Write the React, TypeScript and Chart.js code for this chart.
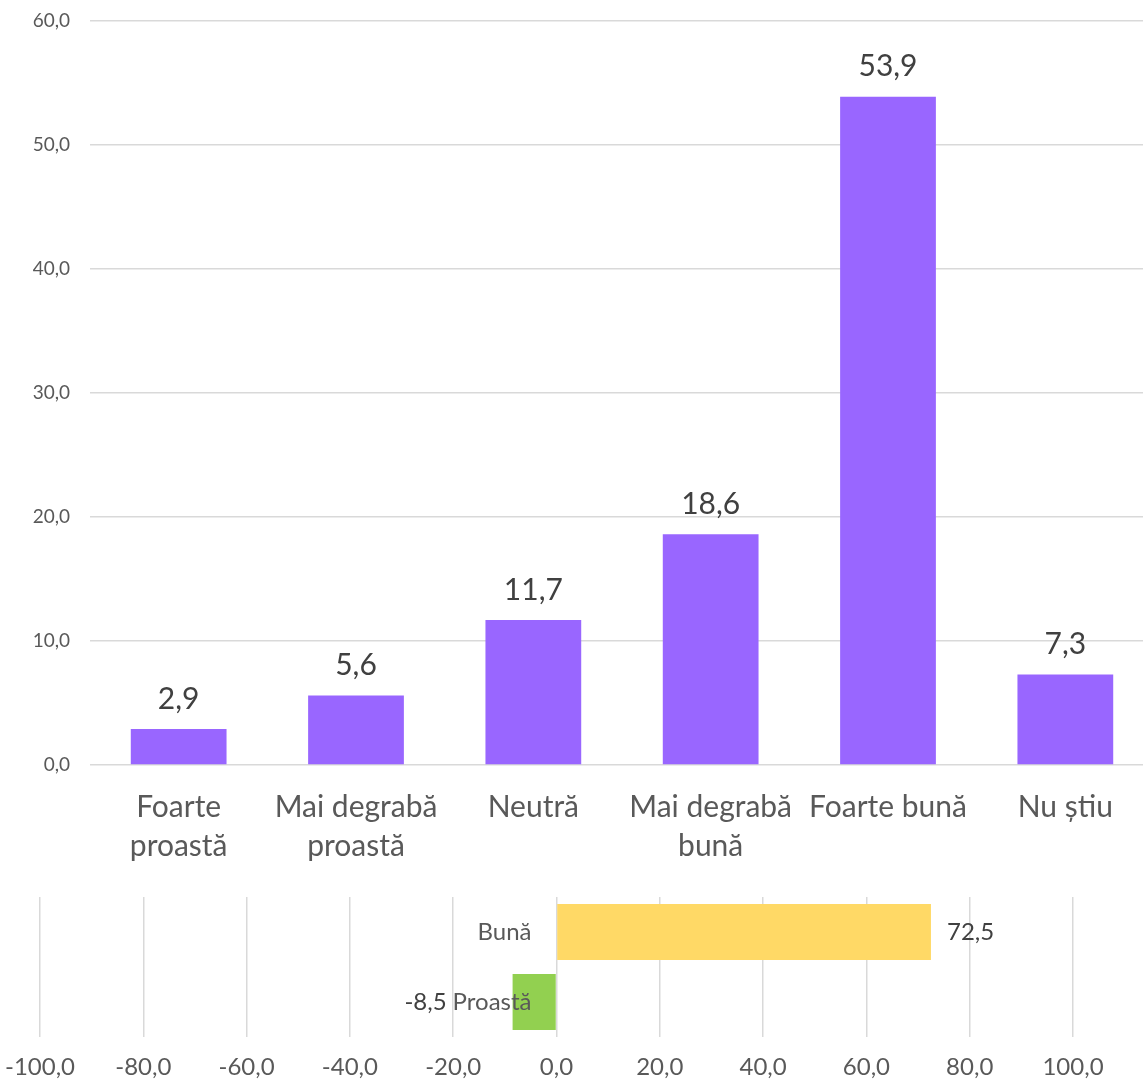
import React, { useEffect, useRef } from "react";
import { Chart, registerables } from "chart.js";

Chart.register(...registerables);

// ---- Data ----
const categories: (string | string[])[] = [
  ["Foarte", "proastă"],
  ["Mai degrabă", "proastă"],
  "Neutră",
  ["Mai degrabă", "bună"],
  "Foarte bună",
  "Nu știu",
];
const values: number[] = [2.9, 5.6, 11.7, 18.6, 53.9, 7.3];
const yTicksMin = 0;
const yTicksMax = 60;
const yTicksStep = 10;

const summaryCategories: string[] = ["Bună", "Proastă"];
const summaryValues: number[] = [72.5, -8.5];
const summaryColors: string[] = ["#FFD966", "#92D050"];
const xTicksMin = -100;
const xTicksMax = 100;
const xTicksStep = 20;

const FONT = "Lato, 'Open Sans', sans-serif";
const fmt = (v: number) => v.toFixed(1).replace(".", ",");

const topLabelPlugin = {
  id: "topValueLabels",
  afterDraw(chart: any) {
    const ctx = chart.ctx;
    const meta = chart.getDatasetMeta(0);
    const data = chart.data.datasets[0].data as number[];
    ctx.save();
    ctx.font = `30px ${FONT}`;
    ctx.fillStyle = "#404040";
    ctx.textAlign = "center";
    ctx.textBaseline = "middle";
    meta.data.forEach((el: any, i: number) => {
      ctx.fillText(fmt(data[i]), el.x, el.y - 30);
    });
    ctx.restore();
  },
};

const bottomLabelPlugin = {
  id: "bottomValueLabels",
  afterDraw(chart: any) {
    const ctx = chart.ctx;
    const meta = chart.getDatasetMeta(0);
    const data = chart.data.datasets[0].data as number[];
    const labels = chart.data.labels as string[];
    const xs = chart.scales.x;
    const ys = chart.scales.y;
    const zero = xs.getPixelForValue(0);
    ctx.save();
    ctx.font = `24px ${FONT}`;
    ctx.textBaseline = "middle";
    // category labels next to the zero line (drawn over the bars)
    ctx.fillStyle = "#595959";
    ctx.textAlign = "right";
    labels.forEach((lab, i) => {
      ctx.fillText(lab, zero - 25, ys.getPixelForTick(i));
    });
    // value labels
    ctx.fillStyle = "#404040";
    meta.data.forEach((el: any, i: number) => {
      const v = data[i];
      if (v >= 0) {
        ctx.textAlign = "left";
        ctx.fillText(fmt(v), el.x + 16, el.y);
      } else {
        ctx.textAlign = "right";
        ctx.fillText(fmt(v), el.x - 66, el.y);
      }
    });
    ctx.restore();
  },
};

function TopChart() {
  const ref = useRef<HTMLCanvasElement>(null);
  useEffect(() => {
    if (!ref.current) return;
    const chart = new Chart(ref.current, {
      type: "bar",
      data: {
        labels: categories,
        datasets: [
          {
            data: values,
            backgroundColor: "#9966FF",
            barPercentage: 0.54,
            categoryPercentage: 1,
          },
        ],
      },
      options: {
        responsive: false,
        animation: false,
        layout: { padding: { top: 21, left: 0, right: 0, bottom: 0 } },
        plugins: { legend: { display: false }, tooltip: { enabled: false } },
        scales: {
          x: {
            grid: { display: false },
            border: { display: false },
            ticks: {
              color: "#595959",
              font: { family: FONT, size: 30, lineHeight: 1.3 },
              padding: 15,
              maxRotation: 0,
              autoSkip: false,
            },
            afterFit: (s: any) => {
              s.height = 115;
              s.paddingLeft = 0;
              s.paddingRight = 0;
            },
          },
          y: {
            min: yTicksMin,
            max: yTicksMax,
            grid: { color: "#D9D9D9", lineWidth: 1.5, drawTicks: false },
            border: { display: false },
            ticks: {
              stepSize: yTicksStep,
              color: "#595959",
              font: { family: FONT, size: 19 },
              padding: 20,
              callback: (v: any) => fmt(Number(v)),
            },
            afterFit: (s: any) => {
              s.width = 90;
              s.paddingTop = 0;
              s.paddingBottom = 0;
            },
          },
        },
      },
      plugins: [topLabelPlugin],
    });
    return () => chart.destroy();
  }, []);
  return (
    <canvas
      ref={ref}
      width={1154}
      height={880}
      style={{ position: "absolute", left: 0, top: 0, display: "block" }}
    />
  );
}

function BottomChart() {
  const ref = useRef<HTMLCanvasElement>(null);
  useEffect(() => {
    if (!ref.current) return;
    const chart = new Chart(ref.current, {
      type: "bar",
      data: {
        labels: summaryCategories,
        datasets: [
          {
            data: summaryValues,
            backgroundColor: summaryColors,
            barPercentage: 0.8,
            categoryPercentage: 1,
          },
        ],
      },
      options: {
        indexAxis: "y",
        responsive: false,
        animation: false,
        layout: { padding: { top: 17, left: 40, right: 70, bottom: 0 } },
        plugins: { legend: { display: false }, tooltip: { enabled: false } },
        scales: {
          x: {
            min: xTicksMin,
            max: xTicksMax,
            grid: { color: "#D9D9D9", lineWidth: 1.5, drawTicks: false },
            border: { display: false },
            ticks: {
              stepSize: xTicksStep,
              autoSkip: false,
              maxRotation: 0,
              color: "#595959",
              font: { family: FONT, size: 24, lineHeight: 1.2 },
              padding: 16,
              callback: (v: any) => fmt(Number(v)),
            },
            afterFit: (s: any) => {
              s.height = 42;
              s.paddingLeft = 0;
              s.paddingRight = 0;
            },
          },
          y: {
            position: { x: 0 } as any,
            grid: { display: false },
            border: { display: false },
            ticks: { display: false },
            afterFit: (s: any) => {
              s.paddingTop = 0;
              s.paddingBottom = 0;
            },
          },
        },
      },
      plugins: [bottomLabelPlugin],
    });
    return () => chart.destroy();
  }, []);
  return (
    <canvas
      ref={ref}
      width={1143}
      height={199}
      style={{ position: "absolute", left: 0, top: 880, display: "block" }}
    />
  );
}

export default function App() {
  return (
    <div
      style={{
        position: "absolute",
        left: 0,
        top: 0,
        width: 1143,
        height: 1079,
        overflow: "hidden",
        background: "#FFFFFF",
      }}
    >
      <TopChart />
      <BottomChart />
    </div>
  );
}
